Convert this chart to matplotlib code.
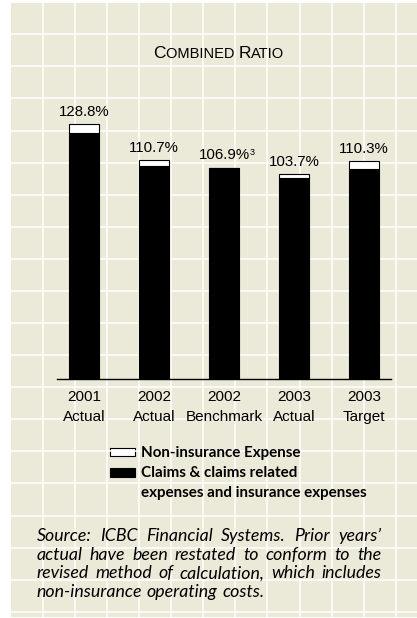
import matplotlib
matplotlib.use("Agg")
import matplotlib.pyplot as plt
from matplotlib.patches import Rectangle
import numpy as np

# combined ratio per period, split into the two cost components
categories = ["2001\nActual", "2002\nActual", "2002\nBenchmark", "2003\nActual", "2003\nTarget"]
total_ratio = [128.8, 110.7, 106.9, 103.7, 110.3]
non_insurance = [4.6, 3.0, 0.0, 2.2, 4.2]
claims = [t - n for t, n in zip(total_ratio, non_insurance)]
footnotes = {2: "3"}

legend_labels = ["Non-insurance Expense",
                 "Claims & claims related\nexpenses and insurance expenses"]
source_lines = ["Source: ICBC Financial Systems. Prior years\u2019",
                "actual have been restated to conform to the",
                "revised method of calculation, which includes",
                "non-insurance operating costs."]

HELV = "Liberation Sans"
BODY = "Lato"
BEIGE = "#ebe9d8"
W, H = 417, 618

fig = plt.figure(figsize=(W / 100, H / 100), dpi=100)
fig.patch.set_facecolor("white")

# page background with the white grid, in pixel units
bg = fig.add_axes([0, 0, 1, 1], zorder=0)
bg.add_patch(Rectangle((11, 3), W - 11, 614, facecolor=BEIGE, lw=0))
for gx in np.arange(42.7, W, 32.1):
    bg.plot([gx, gx], [3, 617], color="white", lw=1.1)
for gy in np.arange(34.3, 617, 32.08):
    bg.plot([11, W], [gy, gy], color="white", lw=1.1)
bg.set_xlim(0, W)
bg.set_ylim(H, 0)
bg.axis("off")

renderer = fig.canvas.get_renderer()


def text_width(t):
    return t.get_window_extent(renderer=renderer).width


# small caps title built from runs of two sizes
title_runs = [("C", 12.5), ("OMBINED ", 10.5), ("R", 12.5), ("ATIO", 10.5)]
tx = 153.3
for s, size in title_runs:
    t = bg.text(tx, 57.7, s, fontsize=size, family=HELV, va="baseline", ha="left")
    tx += text_width(t)

# bar chart
ax = fig.add_axes([57 / W, (H - 379.3) / H, 333.7 / W, 140 * 1.98 / H], zorder=1)
ax.patch.set_visible(False)
x = np.arange(len(categories))
ax.bar(x, claims, width=0.43, color="black", edgecolor="black", lw=0.8)
ax.bar(x, non_insurance, bottom=claims, width=0.43, color="white",
       edgecolor="black", lw=0.8)
ax.set_xlim(-0.386, 4.381)
ax.set_ylim(0, 140)
for side in ["top", "left", "right"]:
    ax.spines[side].set_visible(False)
ax.spines["bottom"].set_linewidth(1.0)
ax.set_yticks([])
ax.set_xticks(x, categories)
ax.tick_params(axis="x", length=0, pad=8, labelsize=11)
for lab in ax.get_xticklabels():
    lab.set_fontfamily(HELV)
    lab.set_linespacing(1.55)

for i, v in enumerate(total_ratio):
    t = ax.annotate(f"{v:.1f}%", xy=(i, v), xytext=(0, 6), textcoords="offset points",
                    ha="center", va="baseline", fontsize=10.8, family=HELV)
    if i in footnotes:
        ax.annotate(footnotes[i], xy=(1, 1), xycoords=t, xytext=(0.2, 0),
                    textcoords="offset points", ha="left", va="top",
                    fontsize=6.5, family=HELV)

# legend
bg.add_patch(Rectangle((110, 447.5), 25, 8.5, facecolor="white", edgecolor="black", lw=0.8))
bg.add_patch(Rectangle((110, 468.3), 25, 8.4, facecolor="black", edgecolor="black", lw=0.8))
ly = [456.7, 477.3]
for base, label in zip(ly, legend_labels):
    for k, line in enumerate(label.split("\n")):
        bg.text(140.7, base + k * 19.5, line, fontsize=10.9, family=BODY,
                fontweight="bold", va="baseline", ha="left")

# justified source note
x0, x1 = 36.7, 381.0
note_size = 12.8
for k, line in enumerate(source_lines):
    y = 541 + k * 18.6
    words = line.split(" ")
    texts = [bg.text(x0, y, w, fontsize=note_size, family=BODY, style="italic",
                     va="baseline", ha="left") for w in words]
    widths = [text_width(t) for t in texts]
    if k == len(source_lines) - 1:
        gap = 0.26 * note_size * 100 / 72
    else:
        gap = (x1 - x0 - sum(widths)) / (len(words) - 1)
    pos = x0
    for t, w in zip(texts, widths):
        t.set_x(pos)
        pos += w + gap

fig.savefig("out.png", dpi=100, facecolor="white")
